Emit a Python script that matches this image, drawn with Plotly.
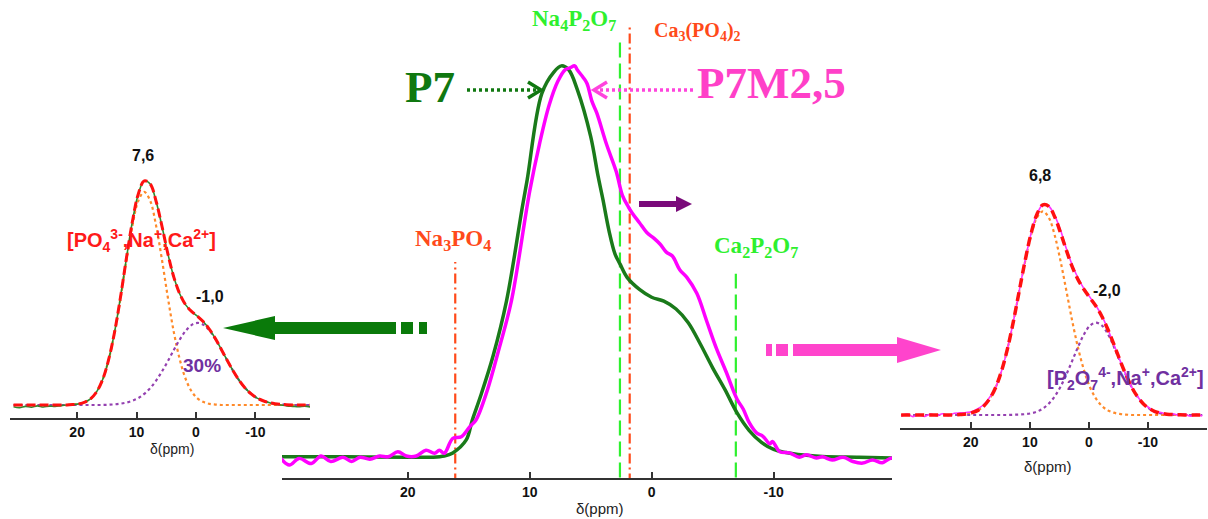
import plotly.graph_objects as go

W, H = 1208, 519

# ---------------- centre panel: experimental spectra ----------------
p7_ppm = [30.3, 25, 20, 18, 17, 16.3, 15.2, 14.7, 14, 13, 11.9, 10.6, 10.2, 9, 8, 7.4, 6.8, 6.1, 5, 4.4, 4.0,
          3.5, 3.0, 2.6, 2.0, 1.0, 0.0, -1.0, -2.0, -3.0, -4.0, -5.0, -6.0, -7.0, -8.0, -9.0, -10.0, -11.0,
          -12.0, -14.0, -17.0, -19.7]
p7_int = [0.003, 0.003, 0.002, 0.002, 0.005, 0.013, 0.046, 0.097, 0.16, 0.26, 0.40, 0.64, 0.71, 0.93, 0.985,
          1.0, 0.99, 0.94, 0.82, 0.72, 0.66, 0.58, 0.52, 0.495, 0.46, 0.43, 0.41, 0.40, 0.38, 0.345, 0.29, 0.23,
          0.175, 0.115, 0.07, 0.04, 0.022, 0.014, 0.009, 0.004, 0.002, 0.0]

p7m_ppm = [30.5, 29.7, 28.9, 27.9, 27.1, 26.3, 25.3, 24.6, 23.9, 23.1, 22.3, 21.6, 20.8, 20.1, 19.3, 18.5,
           17.8, 17.4, 17.0, 16.3, 15.6, 14.9, 14.4, 13.5, 12.5, 11.5, 10.0, 9.2, 8.4, 7.7, 7.1, 6.7, 6.3,
           6.1, 5.6, 5.3, 4.9, 4.5, 3.7, 2.9, 2.4, 1.9, 1.6, 1.0, 0.4, -0.2, -0.7, -1.2, -1.7, -2.3, -2.9,
           -3.7, -4.5, -5.3, -6.1, -7.0, -7.5, -8.0, -8.6, -9.1, -9.7, -9.9, -10.5, -11.3, -12.1, -12.7,
           -13.5, -14.0, -14.8, -15.7, -16.5, -17.3, -18.1, -18.9, -19.7, -20.2]
p7m_int = [0.003, -0.018, -0.001, -0.014, 0.005, -0.009, 0.002, -0.009, 0.002, -0.003, 0.005, 0.003, 0.016,
           0.005, 0.005, 0.020, 0.012, 0.020, 0.012, 0.050, 0.054, 0.080, 0.097, 0.17, 0.28, 0.40, 0.68, 0.80,
           0.90, 0.96, 0.99, 0.995, 1.0, 0.99, 0.97, 0.955, 0.91, 0.88, 0.80, 0.73, 0.67, 0.64, 0.625, 0.60,
           0.575, 0.56, 0.545, 0.525, 0.515, 0.48, 0.46, 0.42, 0.35, 0.28, 0.22, 0.15, 0.125, 0.09, 0.064,
           0.056, 0.036, 0.042, 0.016, 0.013, 0.002, 0.008, 0.0, 0.003, -0.005, 0.002, -0.009, -0.013, -0.005,
           -0.012, 0.0, -0.022]

ref_names = ["Na<sub>3</sub>PO<sub>4</sub>", "Na<sub>4</sub>P<sub>2</sub>O<sub>7</sub>",
             "Ca<sub>3</sub>(PO<sub>4</sub>)<sub>2</sub>", "Ca<sub>2</sub>P<sub>2</sub>O<sub>7</sub>"]
ref_ppm = [16.1, 2.6, 1.8, -6.9]
ref_top = [0.50, 1.07, 1.10, 0.47]
ref_colors = ["#ff4a1a", "#2ef02e", "#ff4a1a", "#2ef02e"]
ref_dash = ["10px,4px,2px,4px", "15px,6px", "10px,4px,2px,4px", "15px,6px"]

# ---------------- left panel: P7 deconvolution ----------------
left_ppm = [30.7, 29.7, 28.7, 27.7, 26.7, 25.7, 24.7, 23.7, 22.7, 21.7, 20.7, 19.7, 18.7, 17.7, 16.7, 15.7,
            14.7, 13.7, 12.7, 11.7, 10.7, 9.7, 8.7, 7.7, 6.7, 5.7, 4.7, 3.7, 2.7, 1.7, 0.7, -0.3, -1.3, -2.3,
            -3.3, -4.3, -5.3, -6.3, -7.3, -8.3, -9.3, -10.3, -11.3, -12.3, -13.3, -14.3, -15.3, -16.3,
            -17.3, -18.3, -19.3]
left_data = [-0.008, -0.012, -0.006, -0.010, -0.004, -0.009, -0.005, -0.007, -0.003, 0.0, 0.002, 0.005,
             0.013, 0.029, 0.060, 0.115, 0.204, 0.328, 0.486, 0.662, 0.826, 0.951, 1.01, 0.996, 0.917, 0.803,
             0.679, 0.574, 0.499, 0.450, 0.421, 0.399, 0.374, 0.340, 0.298, 0.249, 0.199, 0.152, 0.110, 0.076,
             0.050, 0.031, 0.019, 0.011, 0.004, 0.0, -0.004, -0.006, -0.008, -0.005, -0.009]
left_fit = [0, 0, 0, 0, 0, 0, 0, 0, 0, 0, 0.002, 0.005, 0.013, 0.029, 0.060, 0.115, 0.204, 0.328, 0.486,
            0.662, 0.826, 0.951, 1.01, 0.996, 0.917, 0.803, 0.679, 0.574, 0.499, 0.450, 0.421, 0.399, 0.374,
            0.340, 0.298, 0.249, 0.199, 0.152, 0.110, 0.076, 0.050, 0.031, 0.019, 0.011, 0.006, 0.003, 0.001,
            0, 0, 0, 0]
left_peak1 = [0, 0, 0, 0, 0, 0, 0, 0, 0, 0, 0.002, 0.005, 0.013, 0.029, 0.060, 0.115, 0.203, 0.325, 0.48,
              0.651, 0.807, 0.92, 0.96, 0.92, 0.807, 0.651, 0.48, 0.325, 0.203, 0.115, 0.060, 0.029, 0.013,
              0.005, 0.002, 0, 0, 0, 0, 0, 0, 0, 0, 0, 0, 0, 0, 0, 0, 0, 0]
left_peak2 = [0, 0, 0, 0, 0, 0, 0, 0, 0, 0, 0, 0, 0, 0, 0, 0, 0.001, 0.003, 0.006, 0.011, 0.019, 0.031,
              0.050, 0.076, 0.110, 0.152, 0.199, 0.249, 0.296, 0.335, 0.361, 0.37, 0.361, 0.335, 0.296, 0.249,
              0.199, 0.152, 0.110, 0.076, 0.050, 0.031, 0.019, 0.011, 0.006, 0.003, 0.001, 0, 0, 0, 0]

# ---------------- right panel: P7M2,5 deconvolution ----------------
right_ppm = [31.8, 30.8, 29.8, 28.8, 27.8, 26.8, 25.8, 24.8, 23.8, 22.8, 21.8, 20.8, 19.8, 18.8, 17.8, 16.8,
             15.8, 14.8, 13.8, 12.8, 11.8, 10.8, 9.8, 8.8, 7.8, 6.8, 5.8, 4.8, 3.8, 2.8, 1.8, 0.8, -0.2,
             -1.2, -2.2, -3.2, -4.2, -5.2, -6.2, -7.2, -8.2, -9.2, -10.2, -11.2, -12.2, -13.2, -14.2, -15.2,
             -16.2, -17.2, -18.2, -19.2]
right_data = [-0.006, 0.004, -0.008, 0.002, -0.007, 0.005, -0.004, 0.006, -0.003, 0.008, 0.010, 0.012,
              0.016, 0.030, 0.050, 0.085, 0.131, 0.210, 0.315, 0.445, 0.591, 0.736, 0.864, 0.956, 1.001, 0.994,
              0.950, 0.880, 0.790, 0.712, 0.650, 0.600, 0.560, 0.520, 0.472, 0.408, 0.338, 0.265, 0.196, 0.135,
              0.090, 0.054, 0.034, 0.016, 0.012, 0.002, 0.006, -0.002, 0.004, -0.006, 0.003, -0.005]
right_fit = [0, 0, 0, 0, 0, 0, 0, 0, 0, 0, 0.002, 0.005, 0.011, 0.022, 0.043, 0.078, 0.131, 0.210, 0.315,
             0.445, 0.591, 0.736, 0.864, 0.956, 1.001, 0.994, 0.944, 0.867, 0.783, 0.704, 0.642, 0.596, 0.557,
             0.518, 0.469, 0.408, 0.338, 0.265, 0.196, 0.135, 0.088, 0.054, 0.031, 0.016, 0.008, 0.004, 0.002,
             0.001, 0, 0, 0, 0]
right_peak1 = [0, 0, 0, 0, 0, 0, 0, 0, 0, 0, 0.002, 0.005, 0.011, 0.022, 0.043, 0.078, 0.131, 0.210, 0.315,
               0.444, 0.589, 0.732, 0.856, 0.940, 0.97, 0.940, 0.856, 0.732, 0.589, 0.444, 0.315, 0.210, 0.131,
               0.078, 0.043, 0.022, 0.011, 0.005, 0.002, 0, 0, 0, 0, 0, 0, 0, 0, 0, 0, 0, 0, 0]
right_peak2 = [0, 0, 0, 0, 0, 0, 0, 0, 0, 0, 0, 0, 0, 0, 0, 0, 0, 0, 0, 0.001, 0.002, 0.004, 0.008, 0.016,
               0.031, 0.054, 0.088, 0.135, 0.194, 0.260, 0.327, 0.386, 0.426, 0.44, 0.426, 0.386, 0.327, 0.260,
               0.194, 0.135, 0.088, 0.054, 0.031, 0.016, 0.008, 0.004, 0.002, 0.001, 0, 0, 0, 0]

tick_vals = [20, 10, 0, -10]
tick_text = ["20", "10", "0", "-10"]

SERIF = "Liberation Serif"
SANS = "Liberation Sans"
ORANGE = "#ff8a2a"
PURPLE = "#9440b0"
RED = "#ff1010"

fig = go.Figure()

# left panel traces
fig.add_trace(go.Scatter(x=left_ppm, y=left_peak1, mode="lines", xaxis="x", yaxis="y",
                         line=dict(color=ORANGE, width=2.2, dash="dot", shape="spline")))
fig.add_trace(go.Scatter(x=left_ppm, y=left_peak2, mode="lines", xaxis="x", yaxis="y",
                         line=dict(color=PURPLE, width=2.2, dash="dot", shape="spline")))
fig.add_trace(go.Scatter(x=left_ppm, y=left_data, mode="lines", xaxis="x", yaxis="y",
                         line=dict(color="#2e8b2e", width=1.6, shape="spline")))
fig.add_trace(go.Scatter(x=left_ppm, y=left_fit, mode="lines", xaxis="x", yaxis="y",
                         line=dict(color=RED, width=3, dash="9px,4px", shape="spline")))

# centre panel traces
fig.add_trace(go.Scatter(x=p7_ppm, y=p7_int, mode="lines", xaxis="x2", yaxis="y2",
                         line=dict(color="#1a7a1a", width=3.5, shape="spline")))
fig.add_trace(go.Scatter(x=p7m_ppm, y=p7m_int, mode="lines", xaxis="x2", yaxis="y2",
                         line=dict(color="#ff00ff", width=3.5, shape="spline")))

# right panel traces
fig.add_trace(go.Scatter(x=right_ppm, y=right_peak1, mode="lines", xaxis="x3", yaxis="y3",
                         line=dict(color=ORANGE, width=2.2, dash="dot", shape="spline")))
fig.add_trace(go.Scatter(x=right_ppm, y=right_peak2, mode="lines", xaxis="x3", yaxis="y3",
                         line=dict(color=PURPLE, width=2.2, dash="dot", shape="spline")))
fig.add_trace(go.Scatter(x=right_ppm, y=right_data, mode="lines", xaxis="x3", yaxis="y3",
                         line=dict(color="#ff33ff", width=1.6, shape="spline")))
fig.add_trace(go.Scatter(x=right_ppm, y=right_fit, mode="lines", xaxis="x3", yaxis="y3",
                         line=dict(color=RED, width=3.5, dash="9px,5px", shape="spline")))


def xax(domain, rng, anchor):
    return dict(domain=domain, range=rng, anchor=anchor, showline=True, linecolor="#333333", linewidth=2,
                ticks="inside", ticklen=6, tickwidth=1.5, tickcolor="#333333", tickvals=tick_vals,
                ticktext=tick_text, showgrid=False, zeroline=False,
                tickfont=dict(family=SANS, size=14, color="#111111", weight="bold"))


def yax(domain, rng):
    return dict(domain=domain, range=rng, visible=False, showgrid=False, zeroline=False)


fig.update_layout(
    width=W, height=H, paper_bgcolor="white", plot_bgcolor="rgba(0,0,0,0)", showlegend=False,
    margin=dict(l=0, r=0, t=0, b=0, autoexpand=False),
    xaxis=xax([10 / W, 310 / W], [31.3, -19.2], "y"),
    yaxis=yax([1 - 418 / H, 1 - 140 / H], [-0.0586, 1.194]),
    xaxis2=xax([282 / W, 892 / W], [30.3, -19.7], "y2"),
    yaxis2=yax([1 - 478 / H, 1 - 20 / H], [-0.051, 1.117]),
    xaxis3=xax([900 / W, 1207 / W], [32.0, -20.0], "y3"),
    yaxis3=yax([1 - 428 / H, 1 - 150 / H], [-0.062, 1.262]),
    # pixel overlay for decorations
    xaxis4=dict(domain=[0, 1], range=[0, W], visible=False, anchor="y4"),
    yaxis4=dict(domain=[0, 1], range=[H, 0], visible=False, anchor="x4"),
)

shapes = []
# reference lines in the centre panel
for p, top, c, d in zip(ref_ppm, ref_top, ref_colors, ref_dash):
    shapes.append(dict(type="line", xref="x2", yref="y2", x0=p, x1=p, y0=-0.05 if c == "#2ef02e" else -0.065,
                       y1=top, line=dict(color=c, width=2.2, dash=d), layer="below"))


def poly(points, color):
    path = "M " + " L ".join(f"{x} {y}" for x, y in points) + " Z"
    return dict(type="path", xref="x4", yref="y4", path=path, fillcolor=color, line=dict(width=0))


GREEN_ARROW = "#0a7a0a"
PINK_ARROW = "#ff44cc"
# big green arrow (to the left)
shapes.append(poly([(223, 328), (275, 316), (275, 322), (396, 322), (396, 334), (275, 334), (275, 340)],
                   GREEN_ARROW))
shapes.append(poly([(401, 322), (413, 322), (413, 334), (401, 334)], GREEN_ARROW))
shapes.append(poly([(419, 322), (427, 322), (427, 334), (419, 334)], GREEN_ARROW))
# big pink arrow (to the right)
shapes.append(poly([(941, 350), (897, 337), (897, 344), (793, 344), (793, 356), (897, 356), (897, 363)],
                   PINK_ARROW))
shapes.append(poly([(766, 344), (772, 344), (772, 356), (766, 356)], PINK_ARROW))
shapes.append(poly([(776, 344), (788, 344), (788, 356), (776, 356)], PINK_ARROW))
# small purple arrow
shapes.append(poly([(692, 204), (676, 196), (676, 201), (639, 201), (639, 207), (676, 207), (676, 212)],
                   "#7a0a7a"))
# dotted arrows
shapes.append(dict(type="line", xref="x4", yref="y4", x0=467, x1=536, y0=90, y1=90,
                   line=dict(color="#107810", width=3.5, dash="3px,3px")))
shapes.append(dict(type="path", xref="x4", yref="y4", path="M 528 82 L 541 90 L 528 98",
                   line=dict(color="#107810", width=3.5)))
shapes.append(dict(type="line", xref="x4", yref="y4", x0=600, x1=693, y0=90, y1=90,
                   line=dict(color="#ff44dd", width=3.5, dash="3px,3px")))
shapes.append(dict(type="path", xref="x4", yref="y4", path="M 607 82 L 594 90 L 607 98",
                   line=dict(color="#ff44dd", width=3.5)))
fig.update_layout(shapes=shapes)

ann = []


def label(x, y, text, size, color, family=SANS, bold=True):
    ann.append(dict(x=x, y=y, xref="x4", yref="y4", text=text, showarrow=False, xanchor="center",
                    yanchor="middle", font=dict(family=family, size=size, color=color,
                                                weight="bold" if bold else "normal")))


# centre labels
label(574, 20, ref_names[1], 23, "#2ef02e", SERIF)
label(697, 31, ref_names[2], 20, "#ff4a1a", SERIF)
label(453, 240, ref_names[0], 23, "#ff4a1a", SERIF)
label(756, 247, ref_names[3], 23, "#2ef02e", SERIF)
label(430, 87, "P7", 45, "#107810", SERIF)
label(771, 83, "P7M2,5", 45, "#ff40c8", SERIF)
# left panel labels
label(143, 155, "7,6", 16, "#111111")
label(141, 240, "[PO<sub>4</sub><sup>3-</sup>,Na<sup>+</sup>,Ca<sup>2+</sup>]", 20, "#ff1a1a")
label(210, 296, "-1,0", 16, "#111111")
label(202, 365, "30%", 19, "#7030a0")
# right panel labels
label(1040, 175, "6,8", 16, "#111111")
label(1107, 290, "-2,0", 16, "#111111")
label(1125, 378, "[P<sub>2</sub>O<sub>7</sub><sup>4-</sup>,Na<sup>+</sup>,Ca<sup>2+</sup>]", 20, "#7030a0")
# axis titles
label(172, 449, "δ(ppm)", 14, "#222222", bold=False)
label(600, 508, "δ(ppm)", 15, "#222222", bold=False)
label(1048, 466, "δ(ppm)", 15, "#222222", bold=False)
fig.update_layout(annotations=ann)

fig.write_html("out.html", config={"displayModeBar": False},
               post_script="document.body.style.margin='0';document.body.style.padding='0';")
